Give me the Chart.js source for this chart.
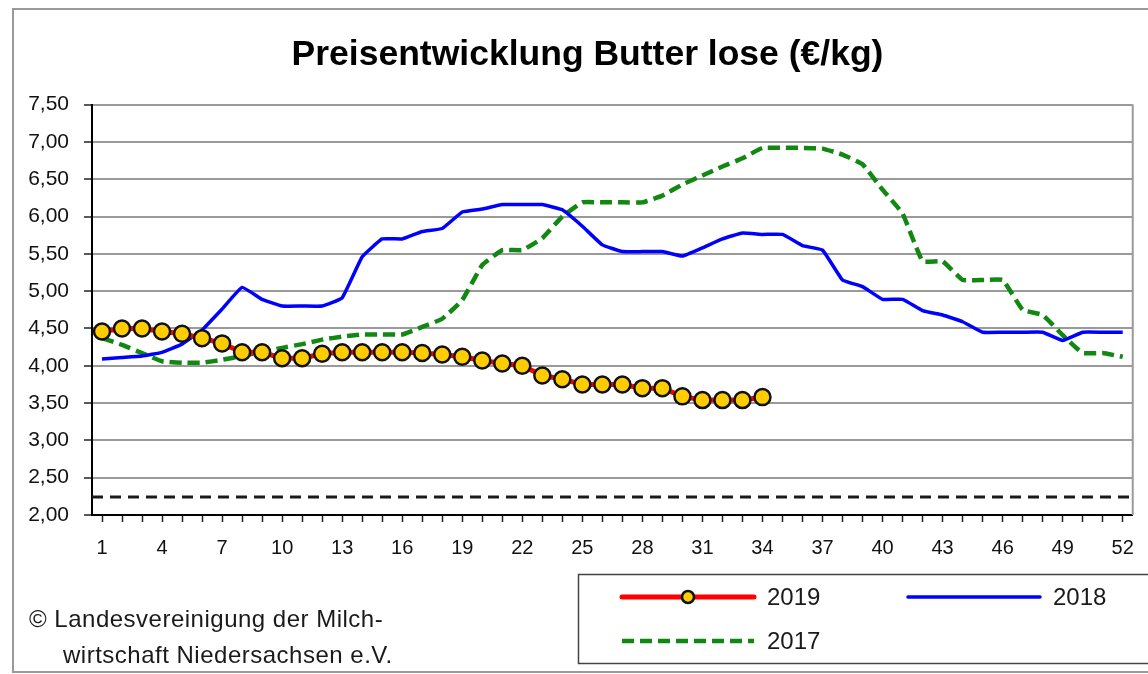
<!DOCTYPE html>
<html>
<head>
<meta charset="utf-8">
<script src="https://cdn.jsdelivr.net/npm/chart.js@4.4.1/dist/chart.umd.min.js"></script>
<style>
  html, body { margin: 0; padding: 0; background: #fff; }
  #wrap { position: relative; width: 1148px; height: 674px; overflow: hidden; }
  #butter { display: block; }
  #frame { position: absolute; left: 12px; top: 8px; width: 1160px; height: 661px; border: 2px solid #9a9a9a; pointer-events: none; }
  .copy { position: absolute; font-family: Arial, "Liberation Sans", sans-serif; font-size: 24px; line-height: 36px; color: #1a1a1a; white-space: nowrap; letter-spacing: 0.5px; }
</style>
</head>
<body>
<div id="wrap">
  <canvas id="butter" width="1148" height="674"></canvas>
  <div class="copy" style="left:29px; top:601px;">© Landesvereinigung der Milch-</div>
  <div class="copy" style="left:63px; top:637px;">wirtschaft Niedersachsen e.V.</div>
  <div id="frame"></div>
</div>
<script>
// Kalenderwochen
var weeks = [1, 2, 3, 4, 5, 6, 7, 8, 9, 10, 11, 12, 13, 14, 15, 16, 17, 18, 19, 20,
    21, 22, 23, 24, 25, 26, 27, 28, 29, 30, 31, 32, 33, 34, 35, 36, 37, 38, 39, 40,
    41, 42, 43, 44, 45, 46, 47, 48, 49, 50, 51, 52];
var shownWeeks = [1, 4, 7, 10, 13, 16, 19, 22, 25, 28, 31, 34, 37, 40, 43, 46, 49, 52];

// Preise in €/kg
var price2019 = [4.46, 4.50, 4.50, 4.46, 4.43, 4.37, 4.30, 4.18, 4.18, 4.10,
    4.10, 4.16, 4.18, 4.18, 4.18, 4.18, 4.17, 4.15, 4.12, 4.07,
    4.03, 4.00, 3.87, 3.82, 3.75, 3.75, 3.75, 3.70, 3.70, 3.59,
    3.54, 3.54, 3.54, 3.58];

var price2018 = [4.09, 4.11, 4.13, 4.18, 4.29, 4.48, 4.76, 5.05, 4.89, 4.80,
    4.80, 4.80, 4.91, 5.46, 5.70, 5.70, 5.80, 5.84, 6.06, 6.10,
    6.16, 6.16, 6.16, 6.09, 5.87, 5.62, 5.53, 5.53, 5.53, 5.47,
    5.58, 5.70, 5.78, 5.76, 5.76, 5.61, 5.55, 5.15, 5.06, 4.89,
    4.89, 4.74, 4.68, 4.59, 4.45, 4.45, 4.45, 4.45, 4.34, 4.45,
    4.45, 4.45];

var price2017 = [4.37, 4.28, 4.17, 4.06, 4.04, 4.04, 4.08, 4.13, 4.19, 4.24,
    4.29, 4.35, 4.39, 4.42, 4.42, 4.42, 4.52, 4.63, 4.88, 5.35,
    5.55, 5.55, 5.71, 6.00, 6.19, 6.19, 6.19, 6.19, 6.28, 6.43,
    6.55, 6.67, 6.78, 6.92, 6.92, 6.92, 6.91, 6.83, 6.70, 6.36,
    6.04, 5.40, 5.40, 5.15, 5.15, 5.15, 4.75, 4.68, 4.41, 4.17,
    4.17, 4.12];

var interventionPrice = 2.24;

var fontFamily = 'Arial, "Liberation Sans", sans-serif';
Chart.defaults.font.family = fontFamily;

// center the title on the outer frame, not on the padded box
var titleSpan = {
    id: 'titleSpan',
    afterLayout: function (chart) {
        if (chart.titleBlock) {
            chart.titleBlock.left = 12;
            chart.titleBlock.right = 1163;
        }
    }
};

// right border + dashed intervention line
var frameLines = {
    id: 'frameLines',
    beforeDatasetsDraw: function (chart) {
        var ctx = chart.ctx;
        var a = chart.chartArea;
        var py = chart.scales.y.getPixelForValue(interventionPrice);
        ctx.save();
        ctx.strokeStyle = '#9a9a9a';
        ctx.lineWidth = 2;
        ctx.beginPath();
        ctx.moveTo(a.right, a.top);
        ctx.lineTo(a.right, a.bottom);
        ctx.stroke();

        ctx.strokeStyle = '#1a1a1a';
        ctx.lineWidth = 3;
        ctx.setLineDash([11, 7]);
        ctx.beginPath();
        ctx.moveTo(a.left, py);
        ctx.lineTo(a.right, py);
        ctx.stroke();
        ctx.restore();
    }
};

// legend box bottom right
var boxLegend = {
    id: 'boxLegend',
    afterDraw: function (chart) {
        var ctx = chart.ctx;
        ctx.save();
        ctx.strokeStyle = '#444';
        ctx.lineWidth = 1.5;
        ctx.strokeRect(578.5, 574.5, 620, 89);

        var items = [
            { ds: 0, x: 622, y: 597 },
            { ds: 1, x: 908, y: 597 },
            { ds: 2, x: 622, y: 641 }
        ];
        items.forEach(function (it) {
            var d = chart.data.datasets[it.ds];
            ctx.strokeStyle = d.borderColor;
            ctx.lineWidth = d.borderWidth;
            ctx.setLineDash(d.borderDash || []);
            ctx.lineCap = d.borderDash ? 'butt' : 'round';
            ctx.beginPath();
            ctx.moveTo(it.x, it.y);
            ctx.lineTo(it.x + 132, it.y);
            ctx.stroke();
            ctx.setLineDash([]);
            if (d.pointRadius) {
                ctx.beginPath();
                ctx.arc(it.x + 66, it.y, 6, 0, Math.PI * 2);
                ctx.fillStyle = d.pointBackgroundColor;
                ctx.fill();
                ctx.lineWidth = 2.5;
                ctx.strokeStyle = d.pointBorderColor;
                ctx.stroke();
            }
            ctx.fillStyle = '#1a1a1a';
            ctx.font = '24px ' + fontFamily;
            ctx.textBaseline = 'middle';
            ctx.fillText(d.label, it.x + 145, it.y + 1);
        });
        ctx.restore();
    }
};

new Chart("butter", {
    type: "line",
    data: {
        labels: weeks,
        datasets: [{
            label: "2019",
            data: price2019,
            borderColor: "#ff0000",
            borderWidth: 5,
            pointRadius: 8,
            pointBackgroundColor: "#ffcc00",
            pointBorderColor: "#111111",
            pointBorderWidth: 2.5,
            tension: 0
        }, {
            label: "2018",
            data: price2018,
            borderColor: "#0000ff",
            borderWidth: 3.5,
            pointRadius: 0,
            tension: 0.1
        }, {
            label: "2017",
            data: price2017,
            borderColor: "#118811",
            borderWidth: 4.5,
            borderDash: [12, 6],
            pointRadius: 0,
            tension: 0.1
        }]
    },
    options: {
        responsive: false,
        animation: false,
        layout: {
            padding: { left: 10, right: 15, top: 0, bottom: 0 }
        },
        plugins: {
            legend: { display: false },
            tooltip: { enabled: false },
            title: {
                display: true,
                text: "Preisentwicklung Butter lose (€/kg)",
                color: "#000",
                font: { size: 35.5, weight: "bold" },
                padding: { top: 34, bottom: 28 }
            }
        },
        scales: {
            x: {
                offset: true,
                grid: { drawOnChartArea: false, drawTicks: true, tickLength: 7, tickColor: "#222", tickWidth: 1.5 },
                border: { color: "#000", width: 2 },
                ticks: {
                    autoSkip: false,
                    maxRotation: 0,
                    padding: 14,
                    color: "#111",
                    font: { size: 20 },
                    callback: function (v, i) {
                        var w = weeks[i];
                        return shownWeeks.indexOf(w) >= 0 ? String(w) : '';
                    }
                },
                afterFit: function (s) { s.height = 159; }
            },
            y: {
                min: 2,
                max: 7.5,
                grid: { color: "#9a9a9a", lineWidth: 2, tickColor: "#222", tickLength: 8, tickWidth: 1.5 },
                border: { color: "#000", width: 2 },
                ticks: {
                    stepSize: 0.5,
                    padding: 15,
                    color: "#111",
                    font: { size: 21 },
                    callback: function (v) { return v.toFixed(2).replace('.', ','); }
                },
                afterFit: function (s) { s.width = 82; }
            }
        }
    },
    plugins: [titleSpan, frameLines, boxLegend]
});
</script>
</body>
</html>
